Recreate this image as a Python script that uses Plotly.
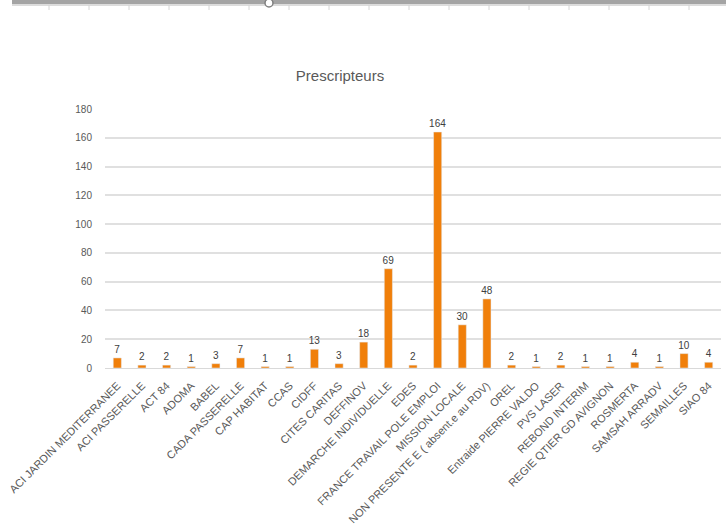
import plotly.graph_objects as go

categories = ["ACI JARDIN MEDITERRANEE", "ACI PASSERELLE", "ACT 84", "ADOMA", "BABEL",
              "CADA PASSERELLE", "CAP HABITAT", "CCAS", "CIDFF", "CITES CARITAS",
              "DEFFINOV", "DEMARCHE INDIVIDUELLE", "EDES", "FRANCE TRAVAIL POLE EMPLOI",
              "MISSION LOCALE", "NON PRESENTE E ( absent.e au RDV)", "OREL",
              "Entraide PIERRE VALDO", "PVS LASER", "REBOND INTERIM",
              "REGIE QTIER GD AVIGNON", "ROSMERTA", "SAMSAH ARRADV", "SEMAILLES", "SIAO 84"]
values = [7, 2, 2, 1, 3, 7, 1, 1, 13, 3, 18, 69, 2, 164, 30, 48, 2, 1, 2, 1, 1, 4, 1, 10, 4]
y_ticks = [0, 20, 40, 60, 80, 100, 120, 140, 160, 180]

W, H = 726, 532
L, R, T, B = 105, 721, 109, 368

def px(x):
    return (x - L) / (R - L)

def py(y):
    return (B - y) / (B - T)

fig = go.Figure(go.Bar(
    x=categories, y=values,
    marker_color="#F07F0A",
    text=[str(v) for v in values], textposition="outside",
    constraintext="none",
    textfont=dict(size=10, color="#404040", family="Liberation Sans"),
    cliponaxis=False,
))

shapes = []
# top ruler strip (part of the screenshot)
shapes.append(dict(type="rect", xref="paper", yref="paper", x0=px(12), x1=px(726),
                   y0=py(4), y1=py(0), fillcolor="#a4a4a4", line=dict(width=0), layer="above"))
shapes.append(dict(type="line", xref="paper", yref="paper", x0=px(12), x1=px(726),
                   y0=py(5), y1=py(5), line=dict(color="#d0d0d0", width=1.5)))
for k in range(18):
    x = 49 + 40 * k
    if x > 726:
        break
    shapes.append(dict(type="line", xref="paper", yref="paper", x0=px(x), x1=px(x),
                       y0=py(5), y1=py(10), line=dict(color="#d4d4d4", width=1)))
shapes.append(dict(type="circle", xref="paper", yref="paper", x0=px(265), x1=px(273),
                   y0=py(7), y1=py(-1), fillcolor="white", line=dict(color="#808080", width=1.5)))

fig.update_layout(
    width=W, height=H,
    margin=dict(l=L, r=W - R, t=T, b=H - B, autoexpand=False),
    paper_bgcolor="white", plot_bgcolor="white",
    showlegend=False,
    bargap=0.67,
    title=dict(text="Prescripteurs", x=340 / W, xref="container", xanchor="center",
               y=1 - 76 / H, yref="container", yanchor="middle",
               font=dict(size=15, color="#595959", family="Liberation Sans")),
    font=dict(family="Liberation Sans", color="#595959"),
    shapes=shapes,
)
fig.update_xaxes(
    tickangle=-45, tickfont=dict(size=11, color="#595959"),
    showgrid=False, showline=True, linecolor="#D9D9D9", linewidth=1,
    ticks="outside", ticklen=6, tickcolor="rgba(0,0,0,0)",
    fixedrange=True, automargin=False,
)
fig.update_yaxes(
    range=[0, 180], tickvals=y_ticks, showgrid=True, gridcolor="#E0E0E0", gridwidth=1.5,
    zeroline=False, showline=False, tickfont=dict(size=10, color="#595959"),
    ticklabelstandoff=12, fixedrange=True, automargin=False,
)

fig.write_html("out.html", config={"displayModeBar": False},
               post_script="document.body.style.margin='0';document.body.style.overflow='hidden';")
